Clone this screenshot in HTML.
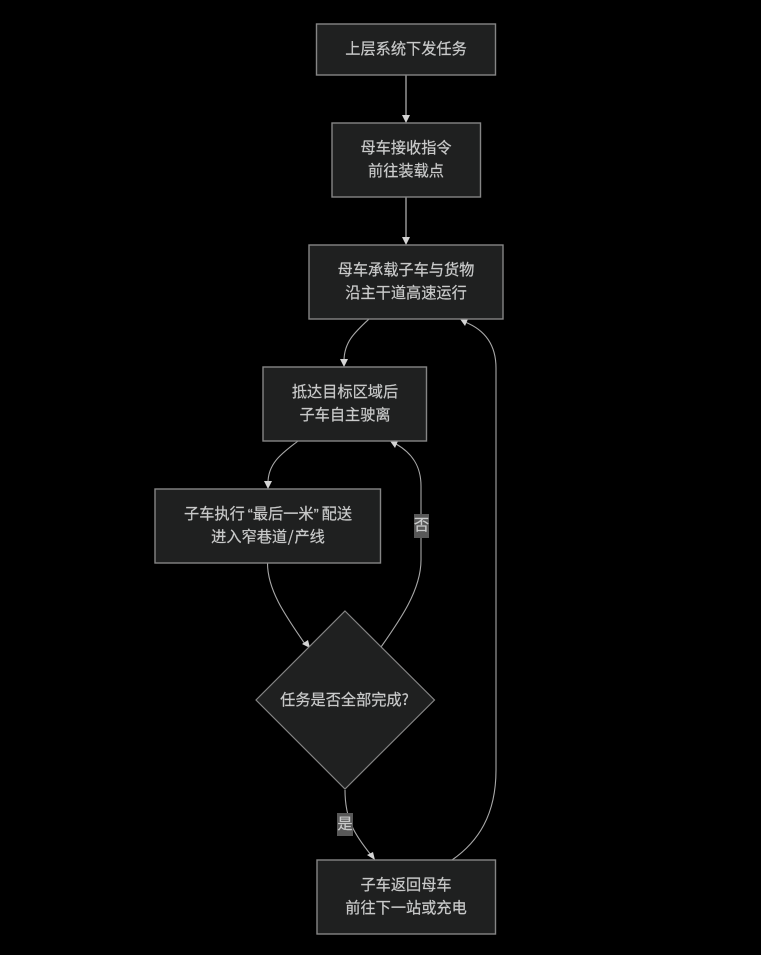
<!DOCTYPE html>
<html lang="zh">
<head>
<meta charset="utf-8">
<style>
html,body{margin:0;padding:0;background:#000;width:761px;height:955px;overflow:hidden}
svg{display:block;position:absolute;left:0;top:0}
.t{position:absolute;width:300px;margin-left:-150px;text-align:center;font-family:"Noto Sans CJK SC","WenQuanYi Zen Hei",sans-serif;font-size:15.2px;line-height:23px;color:#c9caca;white-space:nowrap;-webkit-text-stroke:.2px #c9caca}
.q{font-family:"Liberation Sans",sans-serif;display:inline-block;line-height:1}
.s{margin:0 .7px}
.n{fill:#1f2020;stroke:#858585;stroke-width:1.4}
.e{fill:none;stroke:#a8a8a8;stroke-width:1.1}
.v{fill:none;stroke:#7c7c7c;stroke-width:1.8}
.a{fill:#d4d4d4}
.l{fill:#585858}
</style>
</head>
<body>
<svg width="761" height="955" viewBox="0 0 761 955" xmlns="http://www.w3.org/2000/svg">
<path class="v" d="M406 75V117"/>
<path class="v" d="M406 197V239"/>
<path class="e" d="M369 319C355 332 344 342 344 361"/>
<path class="e" d="M298 441C284 452 268 462 268 483"/>
<path class="e" d="M267.500 563C267.500 590 285 615 305 644"/>
<path class="e" d="M381 647C400 620 421 590 421 560V486C421 466 412 453 396 444"/>
<path class="e" d="M345 790C345 820 355 835 371 855"/>
<path class="e" d="M452 860C478 842 496 815 496 770V368C496 345 485 330 465 322"/>
<polygon class="a" points="402,115 410,115 406,123"/>
<polygon class="a" points="402,237 410,237 406,245"/>
<polygon class="a" points="340,359 348,359 344,367"/>
<polygon class="a" points="264,481 272,481 268,489"/>
<polygon class="a" points="302,644 308,640 310,648"/>
<polygon class="a" points="390,441 398,441 395,448"/>
<polygon class="a" points="367,855 373,852 375,860"/>
<polygon class="a" points="460,319 468,319 465,326"/>
<rect class="n" x="316.500" y="24" width="179" height="51"/>
<rect class="n" x="332" y="123" width="148.500" height="74"/>
<rect class="n" x="309" y="245" width="194" height="74"/>
<rect class="n" x="263" y="367" width="163.500" height="74"/>
<rect class="n" x="155" y="489" width="225.500" height="74"/>
<polygon class="n" points="345,611 434.500,700 345,789 256,700" style="stroke-width:1.2"/>
<rect class="n" x="317" y="860" width="178.500" height="74"/>
<rect class="l" x="414" y="514" width="15" height="24"/>
<rect class="l" x="337" y="813" width="16" height="23"/>
</svg>
<div class="t" style="left:406px;top:37px">上层系统下发任务</div>
<div class="t" style="left:406px;top:136px">母车接收指令<br>前往装载点</div>
<div class="t" style="left:406px;top:258px">母车承载子车与货物<br>沿主干道高速运行</div>
<div class="t" style="left:345px;top:380px">抵达目标区域后<br>子车自主驶离</div>
<div class="t" style="left:268px;top:502px">子车执行<span class="q" style="margin:0 0 0 3px">“</span>最后一米<span class="q" style="margin:0 3px 0 0">”</span>配送<br>进入窄巷道<span class="s">/</span>产线</div>
<div class="t" style="left:344.500px;top:688px">任务是否全部完成?</div>
<div class="t" style="left:406px;top:873px">子车返回母车<br>前往下一站或充电</div>
<div class="t" style="left:421.500px;top:513px">否</div>
<div class="t" style="left:345px;top:812px">是</div>
</body>
</html>
